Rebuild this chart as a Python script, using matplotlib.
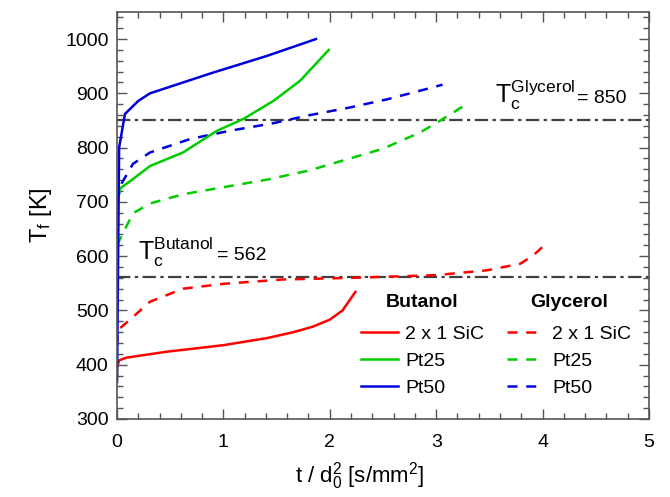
import matplotlib.pyplot as plt
from matplotlib.ticker import MultipleLocator
from matplotlib.lines import Line2D

plt.rcParams['font.family'] = ['Liberation Sans', 'DejaVu Sans']
plt.rcParams['mathtext.default'] = 'regular'

# butanol runs (solid)
but_sic_x = [0, 0.0, 0.02, 0.09, 0.47, 1.0, 1.41, 1.66, 1.84, 2.0, 2.12, 2.24]
but_sic_y = [375, 395, 408, 413, 424, 436, 449, 460, 470, 483, 500, 534]
but_pt25_x = [0, 0, 0.03, 0.15, 0.31, 0.62, 0.94, 1.19, 1.47, 1.72, 1.99]
but_pt25_y = [380, 700, 725, 742, 766, 791, 831, 853, 886, 923, 980]
but_pt50_x = [0, 0.02, 0.075, 0.2, 0.31, 0.9, 1.41, 1.87]
but_pt50_y = [368, 800, 862, 886, 900, 938, 969, 1000]

# glycerol runs (dashed)
gly_sic_x = [0, 0.01, 0.15, 0.31, 0.62, 1.0, 1.56, 2.2, 3.0, 3.48, 3.79, 3.91, 4.0]
gly_sic_y = [435, 464, 488, 516, 540, 549, 557, 560, 565, 574, 586, 601, 617]
gly_pt25_x = [0, 0.03, 0.15, 0.31, 0.62, 1.0, 1.41, 1.81, 2.12, 2.5, 2.85, 3.04, 3.22, 3.31]
gly_pt25_y = [620, 632, 679, 697, 714, 727, 741, 758, 776, 798, 828, 850, 872, 883]
gly_pt50_x = [0, 0.044, 0.15, 0.31, 0.69, 1.06, 1.47, 1.79, 2.19, 2.54, 2.91, 3.06]
gly_pt50_y = [700, 734, 770, 791, 816, 831, 845, 859, 874, 889, 908, 916]

# critical temperatures
tc_butanol = 562
tc_glycerol = 850

labels = ['2 x 1 SiC', 'Pt25', 'Pt50']
colors = ['#ff0000', '#00cc00', '#0000dd']

fig = plt.figure(figsize=(6.7, 4.97), dpi=100)
ax = fig.add_axes([0.1746, 0.157, 0.794, 0.819])

crit_ls = (0, (6, 2, 1.5, 2))
ax.axhline(tc_butanol, color='#404040', lw=1.6, ls=crit_ls)
ax.axhline(tc_glycerol, color='#404040', lw=1.6, ls=crit_ls)

dash = (0, (4, 3.5))
gly = [(gly_sic_x, gly_sic_y), (gly_pt25_x, gly_pt25_y), (gly_pt50_x, gly_pt50_y)]
but = [(but_sic_x, but_sic_y), (but_pt25_x, but_pt25_y), (but_pt50_x, but_pt50_y)]
for (x, y), c in zip(gly, colors):
    ax.plot(x, y, color=c, lw=1.8, ls=dash)
for (x, y), c in zip(but, colors):
    ax.plot(x, y, color=c, lw=1.8)

# T_c labels: big symbol, normal-size value
ax.text(0.2, 593, '$T_c^{Butanol}$', fontsize=18, va='baseline')
ax.text(0.94, 593, '= %d' % tc_butanol, fontsize=14, va='baseline')
ax.text(3.55, 883, '$T_c^{Glycerol}$', fontsize=18, va='baseline')
ax.text(4.32, 883, '= %d' % tc_glycerol, fontsize=14, va='baseline')

ax.set_xlim(0, 5)
ax.set_ylim(300, 1050)
ax.xaxis.set_major_locator(MultipleLocator(1))
ax.xaxis.set_minor_locator(MultipleLocator(0.2))
ax.yaxis.set_major_locator(MultipleLocator(100))
ax.yaxis.set_minor_locator(MultipleLocator(20))
ax.tick_params(which='both', direction='in', top=True, right=True,
               color='#555555', labelsize=14, width=1)
ax.tick_params(which='major', length=7)
ax.tick_params(which='minor', length=4)
ax.tick_params(axis='x', which='major', pad=11)
ax.tick_params(axis='y', which='major', pad=6)
for s in ax.spines.values():
    s.set_color('#555555')
    s.set_linewidth(1.2)

ax.set_xlabel('t / $d_0^2$ [s/mm$^2$]', fontsize=16)
ax.xaxis.set_label_coords(0.457, -0.1)
ax.set_ylabel('$T_f$ [K]', fontsize=17, labelpad=8)

# legends: one column per liquid
h_but = [Line2D([], [], color=c, lw=1.8) for c in colors]
h_gly = [Line2D([], [], color=c, lw=1.8, ls=dash) for c in colors]
leg_kw = dict(loc='upper left', frameon=False, fontsize=14,
              handlelength=1.9, handletextpad=0.4, labelspacing=0.5,
              title_fontproperties={'weight': 'bold', 'size': 14})
leg1 = ax.legend(h_but, labels, title='Butanol',
                 bbox_to_anchor=(0.425, 0.35), **leg_kw)
ax.add_artist(leg1)
leg2 = ax.legend(h_gly, labels, title='Glycerol',
                 bbox_to_anchor=(0.701, 0.35), **leg_kw)
for lg in (leg1, leg2):
    lg._legend_box.sep = 10

fig.savefig('out.png', dpi=100)
